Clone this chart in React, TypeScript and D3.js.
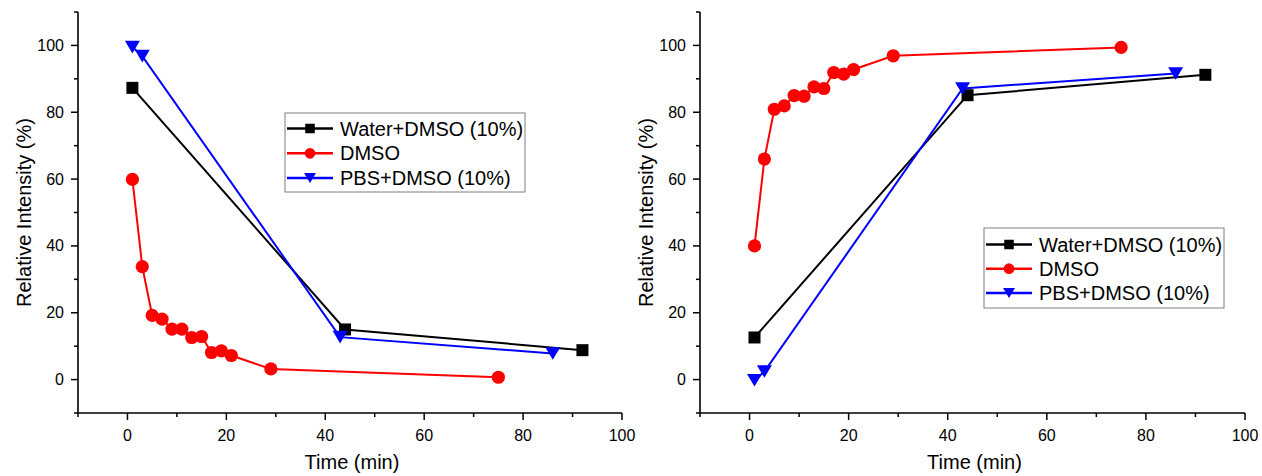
import React from "react";
import * as d3 from "d3";

// Time points (min) and relative intensities (%) for each condition
const seriesNames = ["Water+DMSO (10%)", "DMSO", "PBS+DMSO (10%)"];

// Decay panel
const waterTimeA = [1, 44, 92];
const waterValA = [87.3, 15.0, 8.8];
const dmsoTimeA = [1, 3, 5, 7, 9, 11, 13, 15, 17, 19, 21, 29, 75];
const dmsoValA = [59.9, 33.8, 19.2, 18.1, 15.1, 15.1, 12.6, 12.9, 8.1, 8.6, 7.2, 3.2, 0.7];
const pbsTimeA = [1, 3, 43, 86];
const pbsValA = [99.5, 96.8, 12.7, 7.8];

// Recovery panel
const waterTimeB = [1, 44, 92];
const waterValB = [12.6, 85.1, 91.2];
const dmsoTimeB = [1, 3, 5, 7, 9, 11, 13, 15, 17, 19, 21, 29, 75];
const dmsoValB = [40.0, 66.0, 80.9, 81.9, 85.0, 84.8, 87.6, 87.1, 91.9, 91.4, 92.8, 96.9, 99.4];
const pbsTimeB = [1, 3, 43, 86];
const pbsValB = [-0.2, 2.4, 87.1, 91.6];

const xMajorTicks = [0, 20, 40, 60, 80, 100];
const yMajorTicks = [0, 20, 40, 60, 80, 100];

const colors = ["#000000", "#ff0000", "#0000ff"];
const shapes = ["square", "circle", "triangle"];

type Pt = { t: number; v: number };
const zip = (t: number[], v: number[]): Pt[] => t.map((x, i) => ({ t: x, v: v[i] }));

const FONT = "'Liberation Sans', Arial, sans-serif";

function Marker({ shape, x, y, color, size }: { shape: string; x: number; y: number; color: string; size: number }) {
  if (shape === "square") {
    return <rect x={x - size / 2} y={y - size / 2} width={size} height={size} fill={color} />;
  }
  if (shape === "circle") {
    return <circle cx={x} cy={y} r={size / 2 + 0.6} fill={color} />;
  }
  const w = size * 1.25;
  const h = size * 1.05;
  return (
    <path
      d={`M${x - w / 2},${y - h / 2}L${x + w / 2},${y - h / 2}L${x},${y + h / 2}Z`}
      fill={color}
    />
  );
}

function Panel({
  left,
  right,
  series,
  legend,
}: {
  left: number;
  right: number;
  series: Pt[][];
  legend: { x: number; y: number; w: number; h: number; gap: number; first: number };
}) {
  const top = 12;
  const bottom = 413;
  const x = d3.scaleLinear().domain([-10, 100]).range([left, right]);
  const y = d3.scaleLinear().domain([-10, 110]).range([bottom, top]);
  const line = d3
    .line<Pt>()
    .x((d) => x(d.t))
    .y((d) => y(d.v));

  const xMinor = d3.range(-10, 101, 10).filter((v) => !xMajorTicks.includes(v));
  const yMinor = d3.range(-10, 111, 10).filter((v) => !yMajorTicks.includes(v));

  return (
    <g>
      {/* series lines then markers */}
      {series.map((pts, i) => (
        <path key={"l" + i} d={line(pts) || ""} fill="none" stroke={colors[i]} strokeWidth={2} />
      ))}
      {series.map((pts, i) =>
        pts.map((p, j) => (
          <Marker key={`m${i}-${j}`} shape={shapes[i]} x={x(p.t)} y={y(p.v)} color={colors[i]} size={12} />
        ))
      )}

      {/* axes */}
      <line x1={left} x2={left} y1={top} y2={bottom} stroke="#000" strokeWidth={1.6} />
      <line x1={left} x2={right} y1={bottom} y2={bottom} stroke="#000" strokeWidth={1.6} />
      {xMajorTicks.map((v) => (
        <g key={"xt" + v}>
          <line x1={x(v)} x2={x(v)} y1={bottom} y2={bottom + 7} stroke="#000" strokeWidth={1.5} />
          <text x={x(v)} y={bottom + 28} textAnchor="middle" fontSize={16} fontFamily={FONT} fill="#000">
            {v}
          </text>
        </g>
      ))}
      {xMinor.map((v) => (
        <line key={"xm" + v} x1={x(v)} x2={x(v)} y1={bottom} y2={bottom + 4} stroke="#000" strokeWidth={1.5} />
      ))}
      {yMajorTicks.map((v) => (
        <g key={"yt" + v}>
          <line x1={left - 7} x2={left} y1={y(v)} y2={y(v)} stroke="#000" strokeWidth={1.5} />
          <text x={left - 14} y={y(v) + 5.5} textAnchor="end" fontSize={16} fontFamily={FONT} fill="#000">
            {v}
          </text>
        </g>
      ))}
      {yMinor.map((v) => (
        <line key={"ym" + v} x1={left - 4} x2={left} y1={y(v)} y2={y(v)} stroke="#000" strokeWidth={1.5} />
      ))}

      {/* axis titles */}
      <text x={(left + right) / 2 + 2} y={469} textAnchor="middle" fontSize={20} fontFamily={FONT} fill="#000">
        Time (min)
      </text>
      <text
        transform={`translate(${left - 47},${(top + bottom) / 2}) rotate(-90)`}
        textAnchor="middle"
        fontSize={20}
        fontFamily={FONT}
        fill="#000"
      >
        Relative Intensity (%)
      </text>

      {/* legend */}
      <rect x={legend.x} y={legend.y} width={legend.w} height={legend.h} fill="#fff" stroke="#7f7f7f" strokeWidth={1} />
      {seriesNames.map((name, i) => {
        const cy = legend.y + legend.first + i * legend.gap;
        return (
          <g key={"lg" + i}>
            <line x1={legend.x + 2} x2={legend.x + 48} y1={cy} y2={cy} stroke={colors[i]} strokeWidth={2.5} />
            <Marker shape={shapes[i]} x={legend.x + 25} y={cy} color={colors[i]} size={9.5} />
            <text x={legend.x + 55} y={cy + 7} fontSize={20} fontFamily={FONT} fill="#000">
              {name}
            </text>
          </g>
        );
      })}
    </g>
  );
}

export default function App() {
  const seriesA = [zip(waterTimeA, waterValA), zip(dmsoTimeA, dmsoValA), zip(pbsTimeA, pbsValA)];
  const seriesB = [zip(waterTimeB, waterValB), zip(dmsoTimeB, dmsoValB), zip(pbsTimeB, pbsValB)];
  return (
    <svg width={1262} height={476} style={{ position: "absolute", left: 0, top: 0, background: "#fff" }}>
      <rect width={1262} height={476} fill="#fff" />
      <Panel
        left={78}
        right={622}
        series={seriesA}
        legend={{ x: 285, y: 113, w: 240, h: 79, first: 15.5, gap: 24.8 }}
      />
      <Panel
        left={700}
        right={1245}
        series={seriesB}
        legend={{ x: 984, y: 228, w: 240, h: 80, first: 16.5, gap: 24.2 }}
      />
    </svg>
  );
}
